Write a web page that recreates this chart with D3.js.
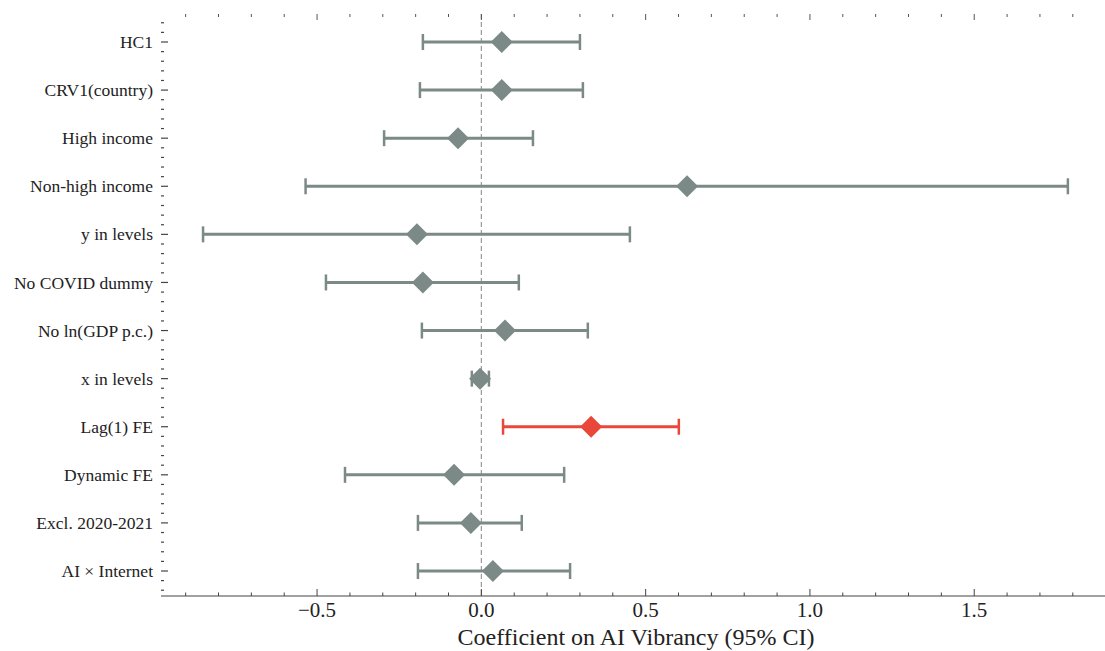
<!DOCTYPE html>
<html><head><meta charset="utf-8">
<script src="https://cdn.jsdelivr.net/npm/d3@7"></script>
<style>body{margin:0;background:#fff}svg{display:block}</style>
</head><body>
<svg id="c" width="1105" height="651"></svg>
<script>
const categories = ["HC1","CRV1(country)","High income","Non-high income","y in levels","No COVID dummy","No ln(GDP p.c.)","x in levels","Lag(1) FE","Dynamic FE","Excl. 2020-2021","AI \u00d7 Internet"];
const estimates = [0.062,0.062,-0.071,0.626,-0.196,-0.178,0.072,-0.004,0.334,-0.083,-0.032,0.035];
const ciLow  = [-0.178,-0.187,-0.296,-0.535,-0.847,-0.473,-0.181,-0.029,0.066,-0.415,-0.193,-0.193];
const ciHigh = [0.300,0.309,0.157,1.785,0.452,0.114,0.324,0.023,0.601,0.252,0.123,0.270];
const highlighted = [false,false,false,false,false,false,false,false,true,false,false,false];
const xTickValues = [-0.5,0,0.5,1,1.5];
const xTickLabels = ["\u22120.5","0.0","0.5","1.0","1.5"];
const xTitle = "Coefficient on AI Vibrancy (95% CI)";

(function(){
const svg = d3.select("#c");
const grey = "#7b8a87", red = "#e8473a", axisCol = "#444";
const font = "'Liberation Serif','Times New Roman',serif";

const x = d3.scaleLinear().domain([-0.975, 1.898]).range([161, 1105]);
const y = d3.scaleLinear().domain([0, 11]).range([42, 571]);
const plotTop = 14, plotBottom = 596;

// zero line
svg.append("line").attr("x1", x(0)).attr("x2", x(0)).attr("y1", plotTop).attr("y2", plotBottom)
  .attr("stroke", "#999").attr("stroke-width", 1.2).attr("stroke-dasharray", "5,3");

// bottom axis line
svg.append("line").attr("x1", 161).attr("x2", 1105).attr("y1", plotBottom).attr("y2", plotBottom)
  .attr("stroke", axisCol).attr("stroke-width", 1.2);

// x ticks (bottom, inward & top)
const minorX = d3.range(-9, 19).map(d => d / 10);
minorX.forEach(v => {
  const major = xTickValues.some(t => Math.abs(t - v) < 1e-9);
  svg.append("line").attr("x1", x(v)).attr("x2", x(v)).attr("y1", plotBottom).attr("y2", plotBottom - (major ? 7 : 3.5))
    .attr("stroke", axisCol).attr("stroke-width", 1);
  svg.append("line").attr("x1", x(v)).attr("x2", x(v)).attr("y1", plotTop).attr("y2", plotTop + (major ? 6 : 3))
    .attr("stroke", "#555").attr("stroke-width", 1);
});
xTickValues.forEach((v, i) => {
  svg.append("text").attr("x", x(v)).attr("y", 617).attr("text-anchor", "middle")
    .attr("font-family", font).attr("font-size", 21).attr("fill", "#222").text(xTickLabels[i]);
});
svg.append("text").attr("x", 636).attr("y", 645).attr("text-anchor", "middle")
  .attr("font-family", font).attr("font-size", 24).attr("fill", "#222").text(xTitle);

// y ticks
const minorY = d3.range(-2, 58).map(d => d / 5);
minorY.forEach(v => {
  const major = Math.abs(v - Math.round(v)) < 1e-9;
  svg.append("line").attr("x1", 161).attr("x2", 161 + (major ? 7 : 3)).attr("y1", y(v)).attr("y2", y(v))
    .attr("stroke", axisCol).attr("stroke-width", 1.2);
});
categories.forEach((c, i) => {
  svg.append("text").attr("x", 153).attr("y", y(i)).attr("dy", "0.35em").attr("text-anchor", "end")
    .attr("font-family", font).attr("font-size", 17.5).attr("fill", "#222").text(c);
});

// error bars
const g = svg.append("g");
categories.forEach((c, i) => {
  const col = highlighted[i] ? red : grey;
  const yy = y(i);
  g.append("line").attr("x1", x(ciLow[i])).attr("x2", x(ciHigh[i])).attr("y1", yy).attr("y2", yy)
    .attr("stroke", col).attr("stroke-width", 3);
  [ciLow[i], ciHigh[i]].forEach(v => {
    g.append("line").attr("x1", x(v)).attr("x2", x(v)).attr("y1", yy - 8).attr("y2", yy + 8)
      .attr("stroke", col).attr("stroke-width", 2.5);
  });
  const cx = x(estimates[i]), r = 11;
  g.append("path").attr("d", `M${cx},${yy - r}L${cx + r},${yy}L${cx},${yy + r}L${cx - r},${yy}Z`)
    .attr("fill", col);
});
})();
</script>
</body></html>
